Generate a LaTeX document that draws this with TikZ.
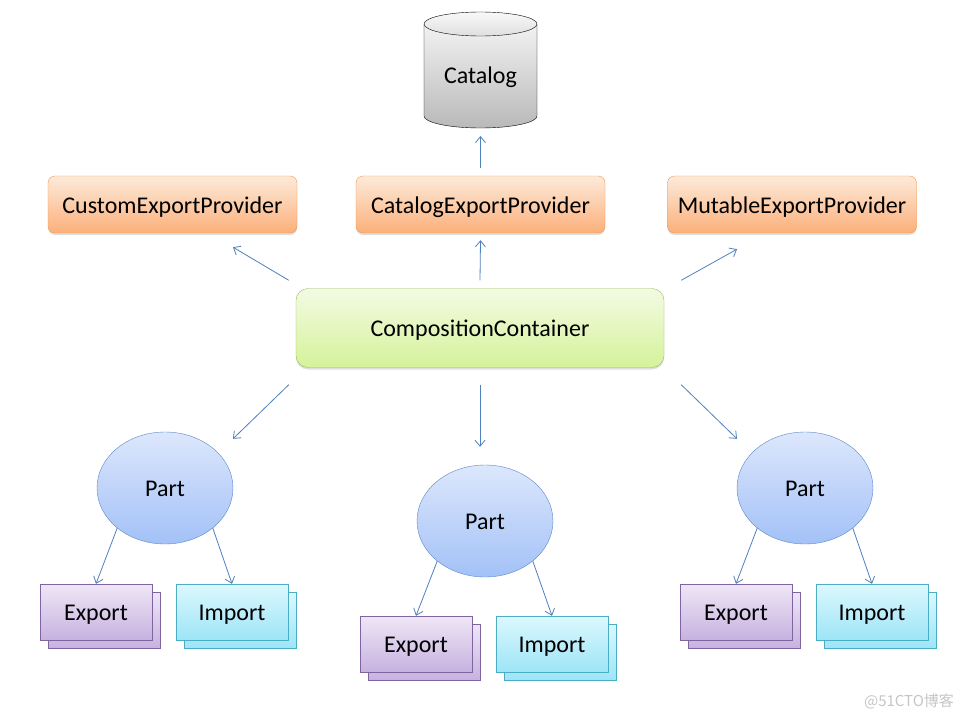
\documentclass[tikz,border=0pt]{standalone}
\usepackage{fontspec}
\setmainfont{Carlito}
\newfontfamily\cjkfont{Noto Sans CJK SC}
\usetikzlibrary{arrows.meta,shadows,shapes.geometric}
\definecolor{linkblue}{HTML}{4F81BD}
\definecolor{provline}{HTML}{F79646}
\definecolor{provtop}{HTML}{FDEADA}
\definecolor{provbot}{HTML}{FBB07A}
\definecolor{ccline}{HTML}{9BBB59}
\definecolor{cctop}{HTML}{F3FBE3}
\definecolor{ccbot}{HTML}{D5F29A}
\definecolor{partline}{HTML}{5B87C5}
\definecolor{parttop}{HTML}{DCE7FC}
\definecolor{partbot}{HTML}{A3C1F7}
\definecolor{expline}{HTML}{8064A2}
\definecolor{exptop}{HTML}{EEE7F6}
\definecolor{expbot}{HTML}{C7B2E0}
\definecolor{impline}{HTML}{4BACC6}
\definecolor{imptop}{HTML}{DDF8FE}
\definecolor{impbot}{HTML}{9DE5F6}
\begin{document}
\begin{tikzpicture}[x=1pt,y=-1pt,
    every node/.style={font=\fontsize{24}{28}\selectfont,text height=22pt,text depth=5pt},
    link/.style={draw=linkblue,line width=0.8pt,-{Straight Barb[length=6pt,width=10pt]}},
    soft/.style={drop shadow={shadow xshift=0pt,shadow yshift=-2pt,opacity=.25}},
    provider/.style={soft,draw=provline,rounded corners=7pt,top color=provtop,bottom color=provbot,minimum width=249pt,minimum height=57pt},
    container/.style={soft,draw=ccline,rounded corners=12pt,top color=cctop,bottom color=ccbot,minimum width=368pt,minimum height=79pt},
    part/.style={ellipse,draw=partline,top color=parttop,bottom color=partbot,minimum width=136pt,minimum height=112pt},
    export/.style={draw=expline,top color=exptop,bottom color=expbot,minimum width=112pt,minimum height=56pt},
    import/.style={draw=impline,top color=imptop,bottom color=impbot,minimum width=112pt,minimum height=56pt}]
\useasboundingbox[fill=white] (0,0) rectangle (960,720);
\draw[top color=gray!10,bottom color=gray!55] (424,24) -- (424,116) arc[start angle=180,end angle=0,x radius=56.5,y radius=12] -- (537,24) -- cycle;
\draw[top color=gray!5,bottom color=gray!25] (480.5,24) ellipse[x radius=56.5,y radius=12];
\coordinate (catbase) at (480.5,128);
\node (cat) at (480.5,75) {Catalog};
\node[provider] (cust) at (172.5,204.5) {CustomExportProvider};
\node[provider] (catp) at (480.5,204.5) {CatalogExportProvider};
\node[provider] (mut) at (792,204.5) {MutableExportProvider};
\node[container] (cc) at (480,328) {CompositionContainer};
\node[part] (part1) at (165,488) {Part};
\node[part] (part2) at (485,521) {Part};
\node[part] (part3) at (805,488) {Part};
\node[export] (exp1b) at (104,620) {};
\node[export] (exp1) at (96,612) {Export};
\node[import] (imp1b) at (240,620) {};
\node[import] (imp1) at (232,612) {Import};
\node[export] (exp2b) at (424,652) {};
\node[export] (exp2) at (416,644) {Export};
\node[import] (imp2b) at (560,652) {};
\node[import] (imp2) at (552,644) {Import};
\node[export] (exp3b) at (744,620) {};
\node[export] (exp3) at (736,612) {Export};
\node[import] (imp3b) at (880,620) {};
\node[import] (imp3) at (872,612) {Import};
\draw[link] ([shift={(0,-8)}]catp.north) -- ([shift={(0,8)}]catbase);
\draw[link] ([shift={(-7,-8)}]cc.north west) -- ([shift={(60.5,14)}]cust.south);
\draw[link] ([shift={(0,-8)}]cc.north) -- ([shift={(0,7)}]catp.south);
\draw[link] ([shift={(17,-8)}]cc.north east) -- ([shift={(-55,16)}]mut.south);
\draw[link] ([shift={(-7,17)}]cc.south west) -- ([shift={(68,7)}]part1.north);
\draw[link] ([shift={(0,17)}]cc.south) -- ([shift={(-5,-18)}]part2.north);
\draw[link] ([shift={(17,17)}]cc.south east) -- ([shift={(-68,7)}]part3.north);
\draw[link] (part1.220) -- (exp1.north);
\draw[link] (part1.320) -- (imp1.north);
\draw[link] (part2.220) -- (exp2.north);
\draw[link] (part2.320) -- (imp2.north);
\draw[link] (part3.220) -- (exp3.north);
\draw[link] (part3.320) -- (imp3.north);
\node[font=\cjkfont\fontsize{15}{18}\selectfont,text height=,text depth=,text=gray!45] (mark) at (909,701) {@51CTO博客};
\end{tikzpicture}
\end{document}
